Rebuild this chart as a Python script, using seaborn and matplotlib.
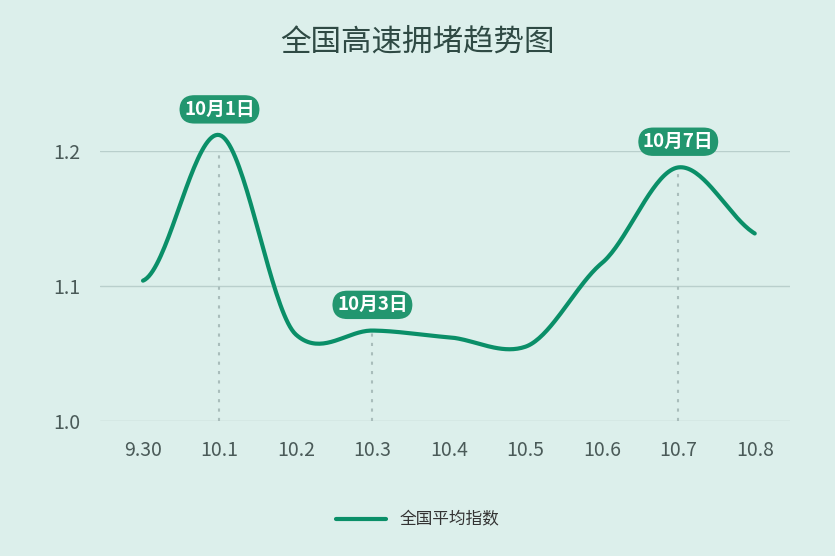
import numpy as np
import matplotlib
matplotlib.use("Agg")
import matplotlib.pyplot as plt
import seaborn as sns
from matplotlib.lines import Line2D

dates = ["9.30", "10.1", "10.2", "10.3", "10.4", "10.5", "10.6", "10.7", "10.8"]
values = [1.104, 1.212, 1.064, 1.067, 1.062, 1.055, 1.117, 1.188, 1.139]
highlight_idx = [1, 3, 7]
highlight_labels = ["10月1日", "10月3日", "10月7日"]
yticks = [1.0, 1.1, 1.2]
series_name = "全国平均指数"
title = "全国高速拥堵趋势图"

bg = "#dcefeb"
green = "#0a8f68"
sns.set_theme(style="white")
plt.rcParams['font.family'] = ['Noto Sans CJK SC', 'DejaVu Sans']

fig = plt.figure(figsize=(8.35, 5.56), dpi=100, facecolor=bg)
ax = fig.add_axes([0.12, 0.243, 0.826, 0.485], facecolor=bg)

x = np.arange(len(values), dtype=float)
y = np.array(values)
xs, ys = [], []
for i in range(len(x) - 1):
    p0 = y[max(i - 1, 0)]; p1 = y[i]; p2 = y[i + 1]; p3 = y[min(i + 2, len(y) - 1)]
    m1 = (p2 - p0) / (2 if 0 < i else 1) * 0.7
    m2 = (p3 - p1) / (2 if i + 2 < len(y) else 1) * 0.7
    if i == 0:
        m1 *= 0.3
    t = np.linspace(0, 1, 40)
    h00 = 2*t**3 - 3*t**2 + 1; h10 = t**3 - 2*t**2 + t
    h01 = -2*t**3 + 3*t**2; h11 = t**3 - t**2
    xs.append(x[i] + t); ys.append(h00*p1 + h10*m1 + h01*p2 + h11*m2)
xs = np.concatenate(xs); ys = np.concatenate(ys)
sns.lineplot(x=xs, y=ys, ax=ax, color=green, lw=3, clip_on=False, sort=False)

for i, lab in zip(highlight_idx, highlight_labels):
    ax.plot([i, i], [1.0, values[i]], ls=(0, (1.5, 3)), color="#a9bdbb", lw=1.5, zorder=1)
    ax.text(i, values[i] + 0.012, lab, ha="center", va="bottom", fontsize=13.5,
            fontweight="bold", color="white",
            bbox=dict(boxstyle="round,pad=0.25,rounding_size=0.8", fc="#22966f", ec="none"))

ax.set_xlim(-0.56, 8.46)
ax.set_ylim(1.0, 1.2)
ax.set_yticks(yticks)
ax.set_yticklabels([f"{v:.1f}" for v in yticks])
ax.set_xticks(x)
ax.set_xticklabels(dates)
ax.tick_params(axis="both", length=0, labelsize=14, colors="#4a5a58", pad=14)
ax.grid(axis="y", color="#b9cfcc", lw=1)
for s in ax.spines.values():
    s.set_visible(False)

fig.text(0.5, 0.925, title, ha="center", va="center", fontsize=22, color="#2f4a44")
handle = Line2D([], [], color=green, lw=3)
fig.legend([handle], [series_name], loc="center", bbox_to_anchor=(0.5, 0.065),
           frameon=False, fontsize=12, handlelength=3, labelcolor="#333333")
fig.savefig("out.png", dpi=100, facecolor=bg)
